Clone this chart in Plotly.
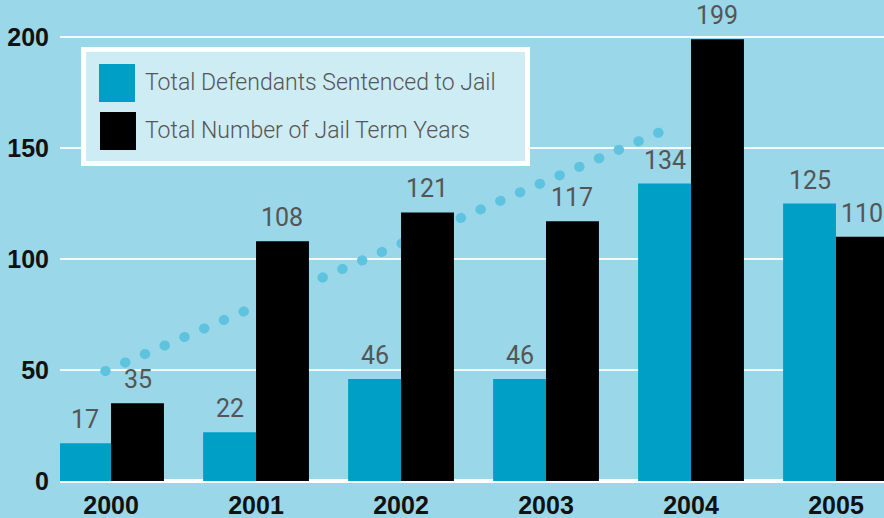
import plotly.graph_objects as go

# ---- data ----
years = [2000, 2001, 2002, 2003, 2004, 2005]
defendants = [17, 22, 46, 46, 134, 125]
jail_years = [35, 108, 121, 117, 199, 110]
series_names = ["Total Defendants Sentenced to Jail", "Total Number of Jail Term Years"]
trend_x = [1999.96, 2003.9]
trend_y = [49.5, 160.4]
y_ticks = [0, 50, 100, 150, 200]

# ---- style ----
BG = "#9ad7e8"
TEAL = "#00a0c6"
BLACK = "#000000"
DOT = "#5ec3df"
LEG_FILL = "#cdecf4"
W, H = 884, 518
ML, MR, MT, MB = 60, 0, 0, 37
PW, PH = W - ML - MR, H - MT - MB
XR = [1999.648, 2005.331]
YR = [0, 216.7]
BAR_PX = (PW / (XR[1] - XR[0])) * (1 - 0.27) / 2


def px_x(p):
    return (p - ML) / PW


def px_y(p):
    return (H - MB - p) / PH


fig = go.Figure()

# decorative dotted trend line (behind bars, on base axes)
fig.add_trace(go.Scatter(
    x=trend_x, y=trend_y, mode="lines",
    line=dict(color=DOT, width=10, dash="0.5px,21px"),
    hoverinfo="skip", showlegend=False, name="trend",
    xaxis="x", yaxis="y"))

fig.add_trace(go.Bar(x=years, y=defendants, name=series_names[0],
                     marker=dict(color=TEAL, line=dict(width=0)),
                     xaxis="x2", yaxis="y2", showlegend=False))
fig.add_trace(go.Bar(x=years, y=jail_years, name=series_names[1],
                     marker=dict(color=BLACK, line=dict(width=0)),
                     xaxis="x2", yaxis="y2", showlegend=False))

label_font = dict(family="Roboto", size=25, color="#555555")
for yr, v in zip(years, defendants):
    fig.add_annotation(x=yr, y=v, xref="x", yref="y", text=str(v), showarrow=False,
                       xshift=-BAR_PX / 2, yshift=7, yanchor="bottom", font=label_font)
for yr, v in zip(years, jail_years):
    fig.add_annotation(x=yr, y=v, xref="x", yref="y", text=str(v), showarrow=False,
                       xshift=BAR_PX / 2, yshift=7, yanchor="bottom", font=label_font)

# custom legend
fig.add_shape(type="rect", xref="paper", yref="paper",
              x0=px_x(83.5), x1=px_x(527.5), y0=px_y(163.5), y1=px_y(49.5),
              line=dict(color="white", width=5), fillcolor=LEG_FILL, layer="above")
fig.add_shape(type="rect", xref="paper", yref="paper",
              x0=px_x(99), x1=px_x(135), y0=px_y(102), y1=px_y(64),
              line=dict(width=0), fillcolor=TEAL, layer="above")
fig.add_shape(type="rect", xref="paper", yref="paper",
              x0=px_x(100), x1=px_x(136), y0=px_y(150), y1=px_y(112),
              line=dict(width=0), fillcolor=BLACK, layer="above")
leg_font = dict(family="Roboto", size=23, color="#555555", weight=300)
fig.add_annotation(xref="paper", yref="paper", x=px_x(143), y=px_y(83),
                   text=series_names[0], showarrow=False, xanchor="left",
                   yanchor="middle", font=leg_font)
fig.add_annotation(xref="paper", yref="paper", x=px_x(143), y=px_y(131),
                   text=series_names[1], showarrow=False, xanchor="left",
                   yanchor="middle", font=leg_font)

tick_font = dict(family="Liberation Sans", size=25, color="#111111", weight="bold")
fig.update_layout(
    width=W, height=H,
    margin=dict(l=ML, r=MR, t=MT, b=MB),
    paper_bgcolor=BG, plot_bgcolor=BG,
    barmode="group", bargap=0.27, bargroupgap=0,
    showlegend=False,
    xaxis=dict(range=XR, tickvals=years, ticktext=[str(y) for y in years],
               showgrid=False, zeroline=False, showline=False, ticks="",
               ticklabelstandoff=7,
               tickfont=tick_font, fixedrange=True),
    yaxis=dict(range=YR, tickvals=y_ticks, showgrid=True, gridcolor="rgba(255,255,255,0.9)",
               gridwidth=2, zeroline=True, zerolinecolor="white", zerolinewidth=4,
               showline=False, ticks="", ticklabelstandoff=10,
               tickfont=tick_font, fixedrange=True),
    xaxis2=dict(range=XR, overlaying="x", visible=False, fixedrange=True),
    yaxis2=dict(range=YR, overlaying="y", visible=False, fixedrange=True),
)

post = """
(function(){
  document.documentElement.style.margin = '0';
  document.documentElement.style.background = '""" + BG + """';
  document.body.style.margin = '0';
  document.body.style.padding = '0';
  document.body.style.overflow = 'hidden';
  function apply(){
    var gd = document.getElementById('{plot_id}');
    if(!gd) return;
    gd.querySelectorAll('.scatterlayer .js-line').forEach(function(p){
      p.style.strokeLinecap = 'round';
    });
  }
  apply();
  setTimeout(apply, 50);
  var gd = document.getElementById('{plot_id}');
  if (gd && gd.on) gd.on('plotly_afterplot', apply);
})();
"""

fig.write_html("out.html", post_script=post,
               config={"displayModeBar": False, "staticPlot": True})
